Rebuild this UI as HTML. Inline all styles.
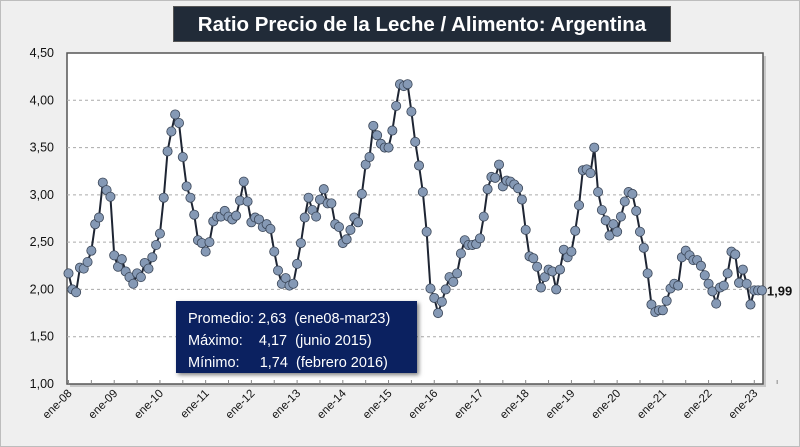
<!DOCTYPE html>
<html><head><meta charset="utf-8"><style>
body{margin:0;background:#fff;font-family:"Liberation Sans",sans-serif}
#c{position:relative;width:800px;height:447px;background:#efefef;box-sizing:border-box;border:1px solid #bdbdbd;overflow:hidden}
#title{position:absolute;left:172px;top:5px;width:498px;height:36px;background:#212b38;color:#fff;font-weight:bold;font-size:20.5px;line-height:36px;text-align:center;border:1px solid #555;box-sizing:border-box;white-space:nowrap}
#info{position:absolute;left:175px;top:300px;width:241px;height:72px;background:#0b2160;color:#fff;font-size:14.5px;box-shadow:2px 2px 4px rgba(0,0,0,.5);box-sizing:border-box;padding:7px 0 0 12px;line-height:22px;white-space:pre}
</style></head><body>
<div id="c">
<svg id="svg" width="800" height="447" style="position:absolute;left:0;top:0"></svg>
<div id="title">Ratio Precio de la Leche / Alimento: Argentina</div>
<div id="info">Promedio: 2,63  (ene08-mar23)
Máximo:    4,17  (junio 2015)
Mínimo:     1,74  (febrero 2016)</div>
</div>
<script>
const yTicks=[1.0,1.5,2.0,2.5,3.0,3.5,4.0,4.5];
const yearLabels=["ene-08","ene-09","ene-10","ene-11","ene-12","ene-13","ene-14","ene-15","ene-16","ene-17","ene-18","ene-19","ene-20","ene-21","ene-22","ene-23"];
const v2008=[2.17,2.00,1.97,2.23,2.22,2.29,2.41,2.69,2.76,3.13,3.05,2.98];
const v2009=[2.36,2.24,2.32,2.19,2.13,2.06,2.17,2.13,2.28,2.22,2.34,2.47];
const v2010=[2.59,2.97,3.46,3.67,3.85,3.76,3.40,3.09,2.97,2.79,2.52,2.49];
const v2011=[2.40,2.50,2.72,2.77,2.77,2.83,2.77,2.74,2.78,2.94,3.14,2.93];
const v2012=[2.71,2.76,2.74,2.66,2.69,2.64,2.40,2.20,2.06,2.12,2.04,2.06];
const v2013=[2.27,2.49,2.76,2.97,2.84,2.77,2.95,3.06,2.91,2.91,2.69,2.66];
const v2014=[2.49,2.53,2.63,2.76,2.71,3.01,3.32,3.40,3.73,3.63,3.54,3.50];
const v2015=[3.50,3.68,3.94,4.17,4.15,4.17,3.88,3.56,3.31,3.03,2.61,2.01];
const v2016=[1.91,1.75,1.87,2.00,2.13,2.08,2.17,2.38,2.52,2.47,2.47,2.48];
const v2017=[2.54,2.77,3.06,3.19,3.18,3.32,3.09,3.15,3.14,3.11,3.07,2.95];
const v2018=[2.63,2.35,2.33,2.24,2.02,2.13,2.21,2.19,2.00,2.21,2.42,2.34];
const v2019=[2.40,2.62,2.89,3.26,3.27,3.23,3.50,3.03,2.84,2.73,2.57,2.69];
const v2020=[2.61,2.77,2.93,3.03,3.01,2.83,2.61,2.44,2.17,1.84,1.76,1.78];
const v2021=[1.78,1.88,2.01,2.06,2.04,2.34,2.41,2.36,2.31,2.31,2.25,2.15];
const v2022=[2.06,1.98,1.85,2.02,2.04,2.17,2.40,2.37,2.07,2.21,2.06,1.84];
const v2023=[1.99,1.99,1.99];
const lastLabel="1,99";
const values=[].concat(v2008,v2009,v2010,v2011,v2012,v2013,v2014,v2015,v2016,v2017,v2018,v2019,v2020,v2021,v2022,v2023);

const PL=66,PR=762,PT=52,PB=383,X0=67.5,DX=3.81;
const yMin=1,yMax=4.5;
const y=v=>PB-(v-yMin)/(yMax-yMin)*(PB-PT);
const x=i=>X0+i*DX;
const NS="http://www.w3.org/2000/svg";
const svg=document.getElementById('svg');
function mk(t,a,p){const e=document.createElementNS(NS,t);for(const k in a)e.setAttribute(k,a[k]);(p||svg).appendChild(e);return e;}

mk('rect',{x:PL+3,y:PT+3,width:PR-PL,height:PB-PT,fill:'#c8c8c8'});
const pa=mk('rect',{x:PL,y:PT,width:PR-PL,height:PB-PT,fill:'#fff',stroke:'#555','stroke-width':1.5});



yTicks.forEach(t=>{
  if(t>yMin&&t<yMax){
    const g=mk('line',{x1:PL,x2:PR,y1:y(t),y2:y(t),stroke:'#aaa','stroke-dasharray':'3,3','stroke-width':1});
    
    
  }
  const l=mk('text',{x:53,y:y(t)+4,'text-anchor':'end','font-size':12.5,fill:'#111'});
  l.textContent=t.toFixed(2).replace('.',',');
  
  
});

for(let i=0;i<=values.length+3;i+=6){
  mk('line',{x1:x(i),x2:x(i),y1:PB,y2:PB-4,stroke:'#888','stroke-width':1});
}
yearLabels.forEach((lab,k)=>{
  const xx=x(k*12)+4, yy=PB+10;
  const t=mk('text',{x:xx,y:yy,'text-anchor':'end','font-size':11.5,fill:'#111',transform:`rotate(-45 ${xx} ${yy})`});
  t.textContent=lab;
  
  
});

const line=mk('polyline',{points:values.map((v,i)=>x(i)+','+y(v)).join(' '),fill:'none',stroke:'#1e2533','stroke-width':2});


values.forEach((v,i)=>{
  const c=mk('circle',{cx:x(i),cy:y(v),r:4.6,fill:'#8599b5',stroke:'#3a4658','stroke-width':0.8});
  
  
});
const li=values.length-1;
const lt=mk('text',{x:x(li)+5,y:y(values[li])+5,'font-size':13,'font-weight':'bold',fill:'#111'});
lt.textContent=lastLabel;


</script>
</body></html>
